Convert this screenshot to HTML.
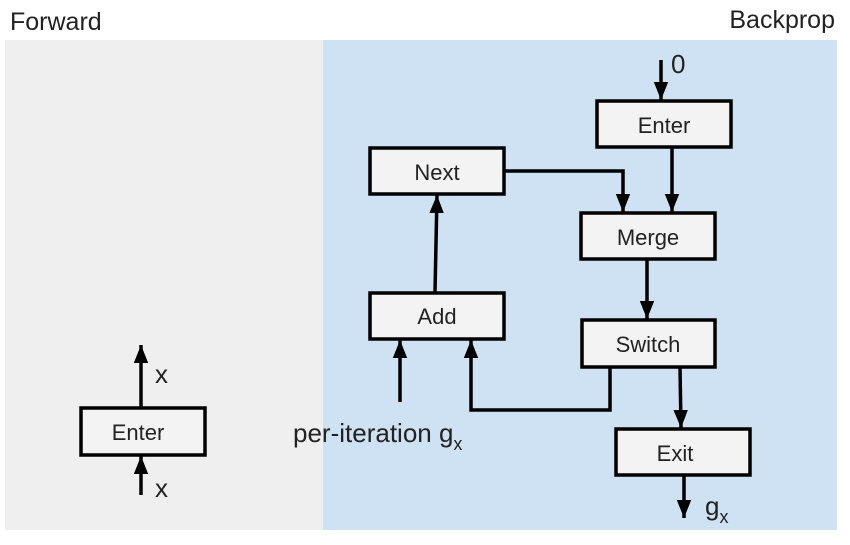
<!DOCTYPE html>
<html><head><meta charset="utf-8"><style>
html,body{margin:0;padding:0;background:#fff;}
</style></head><body>
<svg width="850" height="540" xmlns="http://www.w3.org/2000/svg" font-family="Liberation Sans, sans-serif">
<defs>
<marker id="a" viewBox="0 0 10 8" refX="10" refY="4" markerWidth="18" markerHeight="15" markerUnits="userSpaceOnUse" orient="auto">
<path d="M0,0 L10,4 L0,8 z" fill="#000"/></marker>
</defs>
<rect x="5" y="40" width="318" height="490" fill="#efefef"/>
<rect x="323" y="40" width="514" height="490" fill="#cfe2f3"/>
<text x="10" y="30" font-size="25" fill="#222">Forward</text>
<text x="835" y="28" font-size="25" fill="#222" text-anchor="end">Backprop</text>
<g fill="#f3f3f3" stroke="#000" stroke-width="3.5">
<rect x="597" y="101" width="134" height="46"/>
<rect x="370" y="148" width="134" height="46"/>
<rect x="581" y="213" width="134" height="46"/>
<rect x="370" y="293" width="134" height="46"/>
<rect x="582" y="320" width="133" height="47"/>
<rect x="616" y="429" width="134" height="46"/>
<rect x="81" y="408" width="124" height="47"/>
</g>
<g font-size="22" text-anchor="middle" fill="#222">
<text x="664" y="133">Enter</text>
<text x="437" y="180">Next</text>
<text x="648" y="245">Merge</text>
<text x="437" y="324">Add</text>
<text x="648" y="352">Switch</text>
<text x="675" y="461">Exit</text>
<text x="138" y="440">Enter</text>
</g>
<g stroke="#000" stroke-width="3.5" fill="none" marker-end="url(#a)">
<path d="M661,60 L661,100"/>
<path d="M672,148 L672,212"/>
<path d="M504,171 L623,171 L623,212"/>
<path d="M435,292 L437,195"/>
<path d="M647,259 L647,319"/>
<path d="M680,367 L681,428"/>
<path d="M610,367 L610,410 L471,410 L471,340"/>
<path d="M400,402 L400,340"/>
<path d="M684,475 L684,518"/>
<path d="M141,407 L141,345"/>
<path d="M141,495 L141,456"/>
</g>
<g font-size="26" fill="#222">
<text x="671" y="73">0</text>
<text x="293" y="442">per-iteration g<tspan font-size="18" dy="8">x</tspan></text>
<text x="705" y="515">g<tspan font-size="18" dy="8">x</tspan></text>
<text x="155" y="383">x</text>
<text x="155" y="497">x</text>
</g>
</svg>
</body></html>
